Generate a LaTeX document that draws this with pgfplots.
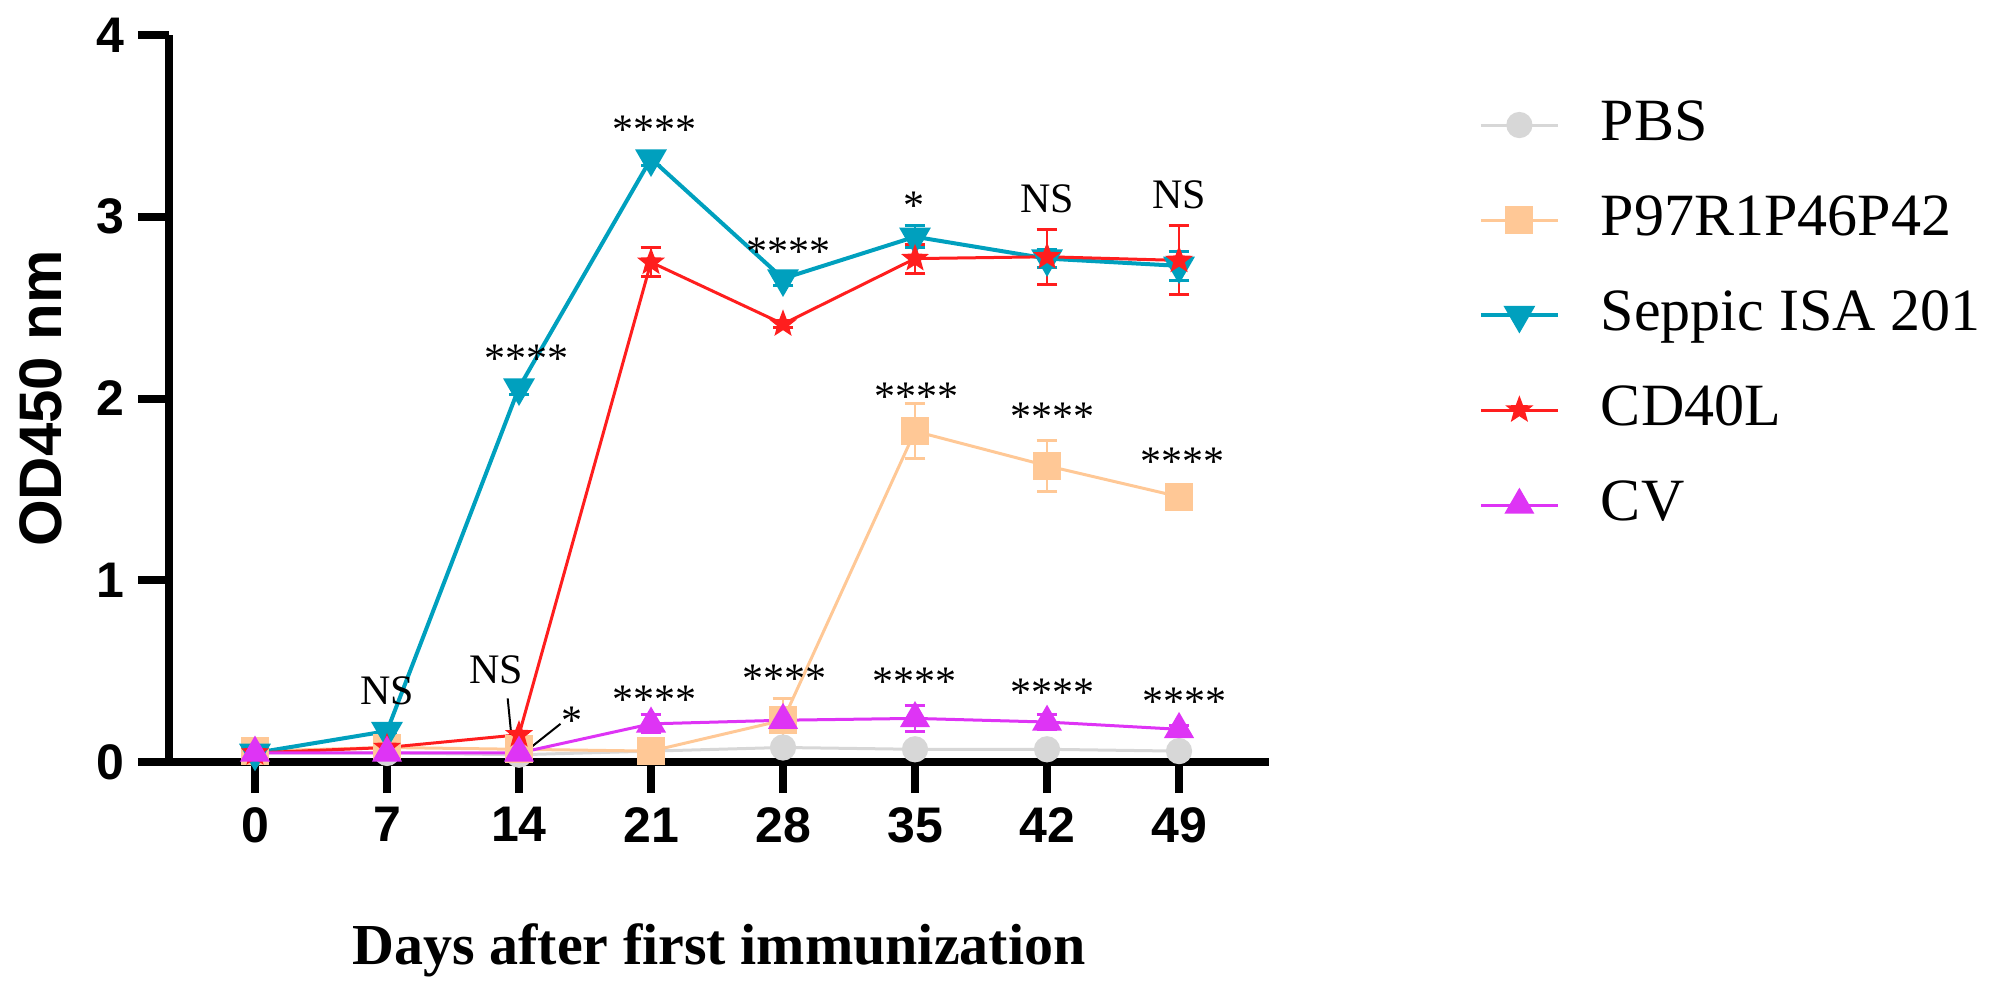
\documentclass[border=0pt]{standalone}
\usepackage{fontspec}
\setmainfont{Liberation Serif}
\setsansfont{Liberation Sans}
\usepackage{pgfplots}
\pgfplotsset{compat=1.18}

\definecolor{pbsgray}{RGB}{215,215,215}
\definecolor{peach}{RGB}{255,200,150}
\definecolor{seppic}{RGB}{0,160,190}
\definecolor{cdred}{RGB}{255,30,30}
\definecolor{cvmag}{RGB}{222,52,245}

% filled five point star
\pgfdeclareplotmark{fstar}{%
  \pgfpathmoveto{\pgfpointpolar{90}{\pgfplotmarksize}}%
  \pgfpathlineto{\pgfpointpolar{126}{0.42\pgfplotmarksize}}%
  \pgfpathlineto{\pgfpointpolar{162}{\pgfplotmarksize}}%
  \pgfpathlineto{\pgfpointpolar{198}{0.42\pgfplotmarksize}}%
  \pgfpathlineto{\pgfpointpolar{234}{\pgfplotmarksize}}%
  \pgfpathlineto{\pgfpointpolar{270}{0.42\pgfplotmarksize}}%
  \pgfpathlineto{\pgfpointpolar{306}{\pgfplotmarksize}}%
  \pgfpathlineto{\pgfpointpolar{342}{0.42\pgfplotmarksize}}%
  \pgfpathlineto{\pgfpointpolar{18}{\pgfplotmarksize}}%
  \pgfpathlineto{\pgfpointpolar{54}{0.42\pgfplotmarksize}}%
  \pgfpathclose\pgfusepathqfillstroke}

\tikzset{
  annot/.style={font=\fontsize{10.5}{12}\selectfont, inner sep=0pt, anchor=base},
}
\pgfplotsset{
  errs/.style={error bars/.cd, y dir=both, y explicit,
    error mark options={rotate=90, mark size=2.6pt, line width=0.75pt}},
}

\begin{document}
\begin{tikzpicture}
\begin{axis}[
  scale only axis,
  width=275pt, height=181.75pt,
  xmin=-4.56, xmax=53.77, ymin=0, ymax=4,
  axis x line=bottom, axis y line=left,
  axis line style={line width=2pt, -},
  xtick={0,7,14,21,28,35,42,49},
  ytick={0,1,2,3,4},
  tick align=outside,
  major tick length=7.75pt,
  tick style={line width=2pt, black},
  every tick label/.append style={font=\sffamily\bfseries\fontsize{12.5}{15}\selectfont},
  /pgf/number format/assume math mode=true,
  xlabel={Days after first immunization},
  xlabel style={font=\bfseries\fontsize{14.5}{17}\selectfont,
    at={(axis description cs:0.5,-0.2586)}, anchor=center},
  ylabel={OD450 nm},
  ylabel style={font=\sffamily\bfseries\fontsize{15}{18}\selectfont,
    at={(axis description cs:-0.1164,0.5)}, anchor=center},
  clip=false,
  legend cell align=left,
  legend image code/.code={\draw[mark repeat=2,mark phase=2,#1]
    plot coordinates {(0pt,0pt) (9.6pt,0pt) (19.25pt,0pt)};
    \path (29.5pt,0pt);},
  legend style={draw=none, fill=none,
    at={(axis description cs:1.1909,0.91609)}, anchor=north west,
    inner sep=0pt, outer sep=0pt, row sep=9.25pt,
    font=\fontsize{15}{18}\selectfont,
    nodes={inner sep=0pt, text height=11pt, text depth=3.5pt}},
]

\addplot[pbsgray, line width=0.75pt, mark=*, mark size=2.9pt,
  mark options={fill=pbsgray, draw=pbsgray}, errs]
  coordinates {(0,0.05) +- (0,0.01) (7,0.05) +- (0,0.01) (14,0.04) +- (0,0.01)
    (21,0.06) +- (0,0.01) (28,0.08) +- (0,0.01) (35,0.07) +- (0,0.01)
    (42,0.07) +- (0,0.01) (49,0.06) +- (0,0.01)};
\addlegendentry{PBS}

\addplot[peach, line width=0.75pt, mark=square*, mark size=3.1pt,
  mark options={fill=peach, draw=peach}, errs]
  coordinates {(0,0.06) +- (0,0.01) (7,0.08) +- (0,0.01) (14,0.07) +- (0,0.01)
    (21,0.06) +- (0,0.01) (28,0.23) +- (0,0.12) (35,1.82) +- (0,0.15)
    (42,1.63) +- (0,0.14) (49,1.46) +- (0,0.03)};
\addlegendentry{P97R1P46P42}

\addplot[seppic, line width=1pt, mark=triangle*, mark size=3.6pt,
  mark options={fill=seppic, draw=seppic, rotate=180}, errs]
  coordinates {(0,0.05) +- (0,0.01) (7,0.17) +- (0,0.02) (14,2.06) +- (0,0.04)
    (21,3.32) +- (0,0.04) (28,2.66) +- (0,0.04) (35,2.89) +- (0,0.06)
    (42,2.77) +- (0,0.05) (49,2.73) +- (0,0.08)};
\addlegendentry{Seppic ISA 201}

\addplot[cdred, line width=0.75pt, mark=fstar, mark size=2.6pt,
  mark options={fill=cdred, draw=cdred}, errs]
  coordinates {(0,0.05) +- (0,0.01) (7,0.08) +- (0,0.01) (14,0.15) +- (0,0.01)
    (21,2.75) +- (0,0.08) (28,2.41) +- (0,0.02) (35,2.77) +- (0,0.08)
    (42,2.78) +- (0,0.15) (49,2.76) +- (0,0.19)};
\addlegendentry{CD40L}

\addplot[cvmag, line width=0.75pt, mark=triangle*, mark size=3.6pt,
  mark options={fill=cvmag, draw=cvmag}, errs]
  coordinates {(0,0.05) +- (0,0.01) (7,0.05) +- (0,0.01) (14,0.05) +- (0,0.01)
    (21,0.21) +- (0,0.05) (28,0.23) +- (0,0.03) (35,0.24) +- (0,0.07)
    (42,0.22) +- (0,0.04) (49,0.18) +- (0,0.02)};
\addlegendentry{CV}

% significance marks
\node[annot] at (axis cs:7,0.314) {NS};
\node[annot] at (axis cs:12.8,0.434) {NS};
\draw[line width=0.5pt] (axis cs:13.4,0.35) -- (axis cs:13.6,0.14);
\node[annot] at (axis cs:16.8,0.154) {*};
\draw[line width=0.5pt] (axis cs:16.2,0.21) -- (axis cs:14.5,0.07);
\node[annot] at (axis cs:14.4,2.144) {****};
\node[annot] at (axis cs:21.2,3.404) {****};
\node[annot] at (axis cs:21.2,0.269) {****};
\node[annot] at (axis cs:28.3,2.734) {****};
\node[annot] at (axis cs:28.07,0.384) {****};
\node[annot] at (axis cs:34.95,2.984) {*};
\node[annot] at (axis cs:35.1,1.934) {****};
\node[annot] at (axis cs:34.95,0.364) {****};
\node[annot] at (axis cs:42,3.024) {NS};
\node[annot] at (axis cs:49,3.044) {NS};
\node[annot] at (axis cs:42.3,1.824) {****};
\node[annot] at (axis cs:49.2,1.574) {****};
\node[annot] at (axis cs:42.3,0.304) {****};
\node[annot] at (axis cs:49.3,0.254) {****};
\end{axis}
\pgfresetboundingbox
\useasboundingbox (-42.25pt,-59.75pt) rectangle (458.25pt,190.5pt);
\end{tikzpicture}
\end{document}
